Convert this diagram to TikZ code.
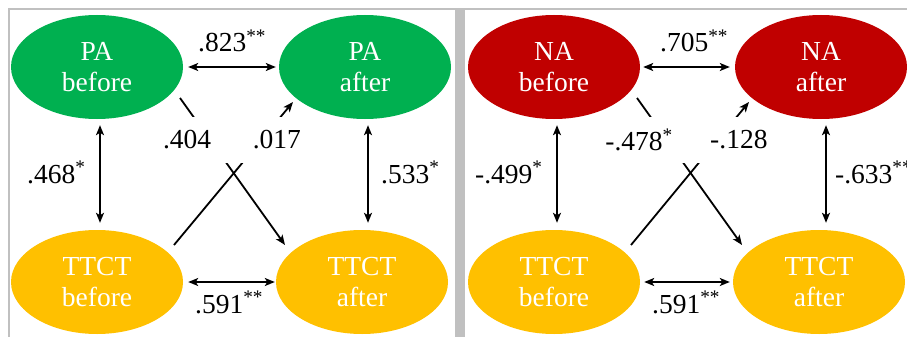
\documentclass[tikz,border=0pt]{standalone}
\usepackage{fontspec}
\setmainfont{Liberation Serif}
\usetikzlibrary{shapes.geometric,arrows.meta,calc}
\definecolor{pagreen}{RGB}{0,176,80}
\definecolor{nared}{RGB}{192,0,0}
\definecolor{ttgold}{RGB}{255,192,0}
\definecolor{framegray}{RGB}{192,192,192}
\begin{document}
\begin{tikzpicture}[x=1pt,y=-1pt,
  ell/.style={ellipse, minimum width=172pt, minimum height=104pt, inner sep=0pt,
    text=white, align=center, font=\fontsize{27.5}{31}\selectfont},
  lbl/.style={font=\fontsize{27.5}{31}\selectfont, inner sep=0pt, anchor=base west},
  gaplbl/.style={font=\fontsize{27.5}{31}\selectfont, inner sep=0pt, fill=white, minimum height=46pt},
  link/.style={line width=1.8pt},
  tip/.tip={Stealth[length=10pt,width=8pt,inset=2.5pt]},
  arr/.style={link, tip-tip},
  onearr/.style={link, -tip}
]
\useasboundingbox (0,0) rectangle (907,337);
% frame
\draw[framegray, line width=2.5pt] (8,9) -- (907,9);
\draw[framegray, line width=2.5pt] (9,8) -- (9,337);
\fill[framegray] (455,8) rectangle (465,337);

% ---------------- left panel ----------------
\node[ell, fill=pagreen] (PAb) at (97,67) {PA\\before};
\node[ell, fill=pagreen] (PAa) at (365,67) {PA\\after};
\node[ell, fill=ttgold] (TTb) at (97,282) {TTCT\\before};
\node[ell, fill=ttgold] (TTa) at (362,282) {TTCT\\after};

\draw[arr, shorten <=5pt, shorten >=3pt] (PAb.east) -- (PAa.west);
\draw[arr, shorten <=5pt, shorten >=1pt] (TTb.east) -- (TTa.west);
\draw[arr, shorten <=6pt, shorten >=7pt] ([xshift=3pt]PAb.south) -- ([xshift=3pt]PAb.south |- TTb.north);
\draw[arr, shorten <=6pt, shorten >=7pt] ([xshift=3pt]PAa.south) -- ([xshift=3pt]PAa.south |- TTa.north);
\draw[onearr] ($(PAb.center)+(83,31)$) -- ($(TTa.center)+(-77,-37)$);
\draw[onearr] ($(TTb.center)+(77,-37)$) -- ($(PAa.center)+(-72,35)$);

\node[gaplbl, minimum width=68pt] (l404) at (194,140) {.404\hphantom{0}};
\node[gaplbl, minimum width=64pt] (l017) at (270,140) {\hphantom{0}.017};
\node[lbl] (l823) at (198,52) {.823\textsuperscript{**}};
\node[lbl] (l591) at (195,313) {.591\textsuperscript{**}};
\node[lbl] (l468) at (27,183) {.468\textsuperscript{*}};
\node[lbl] (l533) at (381,183) {.533\textsuperscript{*}};

% ---------------- right panel ----------------
\node[ell, fill=nared] (NAb) at (554,67) {NA\\before};
\node[ell, fill=nared] (NAa) at (821,67) {NA\\after};
\node[ell, fill=ttgold] (TTb2) at (554,282) {TTCT\\before};
\node[ell, fill=ttgold] (TTa2) at (819,282) {TTCT\\after};

\draw[arr, shorten <=3pt, shorten >=5pt] (NAb.east) -- (NAa.west);
\draw[arr, shorten <=4pt, shorten >=3pt] (TTb2.east) -- (TTa2.west);
\draw[arr, shorten <=6pt, shorten >=7pt] ([xshift=3pt]NAb.south) -- ([xshift=3pt]NAb.south |- TTb2.north);
\draw[arr, shorten <=6pt, shorten >=7pt] ([xshift=5pt]NAa.south) -- ([xshift=5pt]NAa.south |- TTa2.north);
\draw[onearr] ($(NAb.center)+(83,31)$) -- ($(TTa2.center)+(-77,-37)$);
\draw[onearr] ($(TTb2.center)+(77,-37)$) -- ($(NAa.center)+(-72,35)$);

\node[gaplbl, minimum width=90pt] (l478) at (646,140) {-.478\textsuperscript{*}\hphantom{0}};
\node[gaplbl, minimum width=76pt] (l128) at (732,140) {\hphantom{0}-.128};
\node[lbl] (l705) at (660,52) {.705\textsuperscript{**}};
\node[lbl] (l591b) at (652,313) {.591\textsuperscript{**}};
\node[lbl] (l499) at (475,183) {-.499\textsuperscript{*}};
\node[lbl] (l633) at (835,183) {-.633\textsuperscript{**}};
\end{tikzpicture}
\end{document}
